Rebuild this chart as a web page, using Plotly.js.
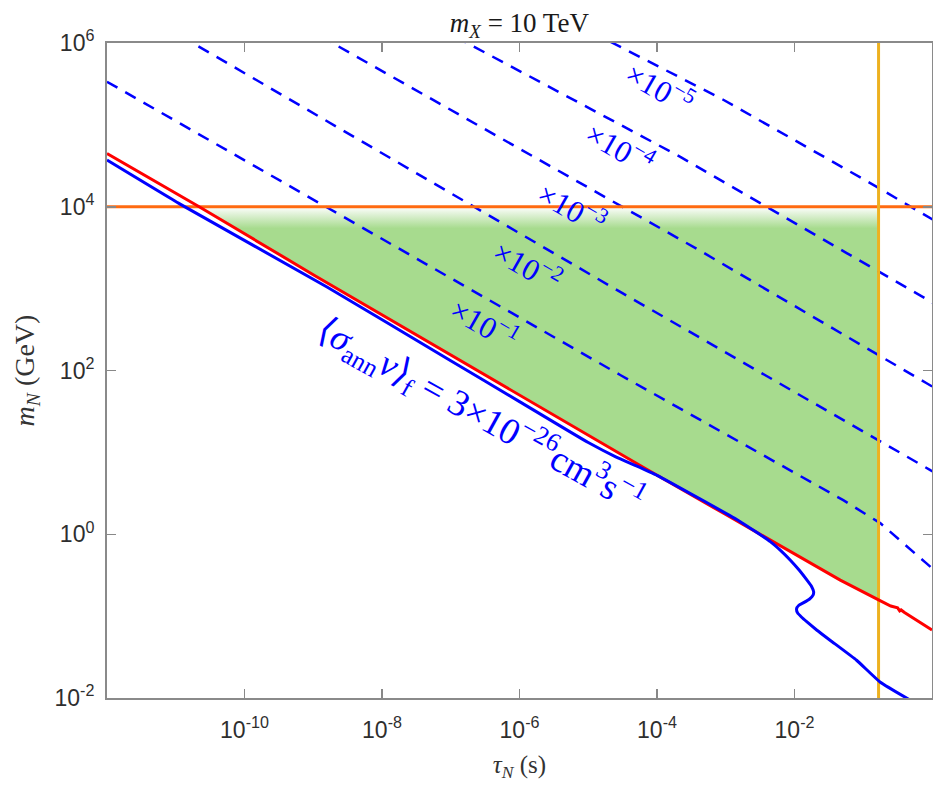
<!DOCTYPE html>
<html>
<head>
<meta charset="utf-8">
<script src="https://cdn.plot.ly/plotly-3.0.1.min.js"></script>
<style>
  html, body { margin: 0; padding: 0; background: #ffffff; }
  #chart { width: 933px; height: 785px; }
</style>
</head>
<body>
<div id="chart"></div>
<script>
// Lifetime tau_N (s) and mass m_N (GeV) along each curve.

// Freeze-out bound <sigma v>_f = 3e-26 cm^3/s (solid blue)
const tauBlue = [1e-12, 1.175e-11, 1.585e-9, 1e-7, 1e-6, 1e-5, 2.512e-5, 5.012e-5, 1e-4,
                 4.27e-4, 1.585e-3, 4.45e-3, 6.31e-3, 8.71e-3, 0.01175, 0.0152, 0.01778,
                 0.01897, 0.01862, 0.0166, 0.01358, 0.01148, 0.01072, 0.01109, 0.01259,
                 0.0152, 0.0212, 0.0329, 0.0800, 0.175, 0.468];
const mBlue   = [3.72e4, 1.07e4, 1047, 131.8, 41.7, 13.18, 8.83, 6.84, 5.25,
                 2.69, 1.445, 0.813, 0.631, 0.482, 0.363, 0.275, 0.229,
                 0.1995, 0.180, 0.162, 0.146, 0.1349, 0.1230, 0.1096, 0.0977,
                 0.0849, 0.0673, 0.0508, 0.0289, 0.0157, 0.00955];

// Lower boundary of the allowed region (solid red)
const tauRed = [1e-12, 2.19e-11, 1e-9, 1e-7, 1.50e-5, 7.16e-5, 1e-3, 0.0463, 0.167,
                0.251, 0.316, 0.339, 0.355, 0.398, 1.0];
const mRed   = [4.47e4, 1.0e4, 1.48e3, 155, 13.0, 6.17, 1.74, 0.275, 0.158,
                0.133, 0.126, 0.116, 0.119, 0.111, 0.0676];

// Contours with the cross section scaled by 10^-1 ... 10^-5 (dashed blue)
const tauX1 = [1e-12, 2.92e-5, 0.0512, 0.1766, 0.824, 1.32];
const mX1   = [3.365e5, 88.1, 2.61, 1.368, 0.4436, 0.316];
const tauX2 = [1.164e-11, 2.92e-5, 0.9447, 1.56];
const mX2   = [1.227e6, 912, 6.08, 4.72];
const tauX3 = [1.268e-9, 4.27e-4, 0.824, 1.56];
const mX3   = [1.211e6, 2891, 70.3, 51.6];
const tauX4 = [1.164e-7, 2.183e-4, 0.0566, 1.044, 1.56];
const mX4   = [1.194e6, 4.07e4, 2735, 668, 550];
const tauX5 = [2.094e-5, 9.20e-4, 0.140, 1.044, 1.56];
const mX5   = [1.037e6, 2.028e5, 1.854e4, 6918, 5675];
const contourLabels = ['×10<sup>−1</sup>', '×10<sup>−2</sup>', '×10<sup>−3</sup>',
                       '×10<sup>−4</sup>', '×10<sup>−5</sup>'];

// Cuts: m_N = m_X = 10 TeV and the maximal lifetime
const mCut = 1e4;
const tauMax = 0.167;

// Axis ticks
const xTickVals = [1e-10, 1e-8, 1e-6, 1e-4, 1e-2];
const xTickText = ['10<sup>-10</sup>', '10<sup>-8</sup>', '10<sup>-6</sup>', '10<sup>-4</sup>', '10<sup>-2</sup>'];
const yTickVals = [1e-2, 1e0, 1e2, 1e4, 1e6];
const yTickText = ['10<sup>-2</sup>', '10<sup>0</sup>', '10<sup>2</sup>', '10<sup>4</sup>', '10<sup>6</sup>'];

const xRange = [1e-13, 10];
const yRange = [1e-3, 1e7];

// Allowed region: above the red curve, below m_X, left of tauMax
const fillX = [], fillY = [];
for (let i = 0; i < tauRed.length; i++) {
  if (mRed[i] <= mCut && tauRed[i] <= tauMax) { fillX.push(tauRed[i]); fillY.push(mRed[i]); }
}
fillX.push(tauMax); fillY.push(mCut);

const GREEN = '#a7db8e';
const BLUE = '#0000ff';
const serif = 'Liberation Serif, DejaVu Serif, serif';

const traces = [];
traces.push({
  x: fillX, y: fillY, mode: 'lines', fill: 'toself', fillcolor: GREEN,
  fillgradient: { type: 'vertical', colorscale: [[0, GREEN], [0.945, GREEN], [0.985, '#e6f4df'], [1, '#ffffff']] },
  line: { width: 0, color: GREEN }, hoverinfo: 'skip'
});
[[tauX1, mX1], [tauX2, mX2], [tauX3, mX3], [tauX4, mX4], [tauX5, mX5]].forEach(function (c) {
  traces.push({ x: c[0], y: c[1], mode: 'lines', line: { color: BLUE, width: 2.5, dash: '12px,9px' } });
});
traces.push({ x: xRange, y: [mCut, mCut], mode: 'lines', line: { color: '#ff6a10', width: 3 } });
traces.push({ x: [tauMax, tauMax], y: yRange, mode: 'lines', line: { color: '#edb120', width: 3 } });
traces.push({ x: tauRed, y: mRed, mode: 'lines', line: { color: '#ff0000', width: 3 } });
traces.push({ x: tauBlue, y: mBlue, mode: 'lines', line: { color: BLUE, width: 3, shape: 'spline', smoothing: 0.4 } });

// Inline contour labels (positions in log10 axis units)
const labelPos = [[-6.498, 2.579], [-5.873, 3.288], [-5.233, 3.985], [-4.534, 4.719], [-3.952, 5.454]];
const annotations = contourLabels.map(function (t, i) {
  return { x: labelPos[i][0], y: labelPos[i][1], xref: 'x', yref: 'y', text: t, showarrow: false,
           textangle: 30, font: { family: serif, size: 31, color: BLUE } };
});
annotations.push({
  x: -6.56, y: 1.46, xref: 'x', yref: 'y', showarrow: false, textangle: 29,
  text: '⟨<i>σ</i><sub>ann</sub><i>v</i>⟩<sub>f</sub> = 3×10<sup>−26</sup>cm<sup>3</sup>s<sup>−1</sup>',
  font: { family: serif, size: 37, color: BLUE }
});

const axisCommon = {
  type: 'log', tickmode: 'array', ticks: 'inside', ticklen: 9, tickwidth: 1.5, tickcolor: '#888888',
  showline: true, linecolor: '#8a8a8a', linewidth: 2, mirror: 'ticks',
  showgrid: false, zeroline: false,
  tickfont: { family: 'Liberation Sans, Arial, sans-serif', size: 23, color: '#2e2e2e' }
};

const layout = {
  width: 933, height: 785,
  margin: { l: 107, r: 1, t: 43, b: 87 },
  paper_bgcolor: '#ffffff', plot_bgcolor: '#ffffff',
  showlegend: false,
  title: {
    text: '<i>m</i><sub><i>X</i></sub> = 10 TeV',
    font: { family: serif, size: 27, color: '#1a1a1a' },
    x: 0.5567, xref: 'container', xanchor: 'center', y: 0.971, yref: 'container', yanchor: 'middle'
  },
  xaxis: Object.assign({}, axisCommon, {
    range: [-12, 0], tickvals: xTickVals, ticktext: xTickText, ticklabelstandoff: 10,
    title: { text: '<i>τ</i><sub><i>N</i></sub> (s)', font: { family: serif, size: 25, color: '#333333' }, standoff: 14 }
  }),
  yaxis: Object.assign({}, axisCommon, {
    range: [-2, 6], tickvals: yTickVals, ticktext: yTickText, ticklabelstandoff: 6,
    title: { text: '<i>m</i><sub><i>N</i></sub> (GeV)', font: { family: serif, size: 28, color: '#333333' }, standoff: 12 }
  }),
  annotations: annotations
};

Plotly.newPlot('chart', traces, layout, { displayModeBar: false, staticPlot: true });
</script>
</body>
</html>
